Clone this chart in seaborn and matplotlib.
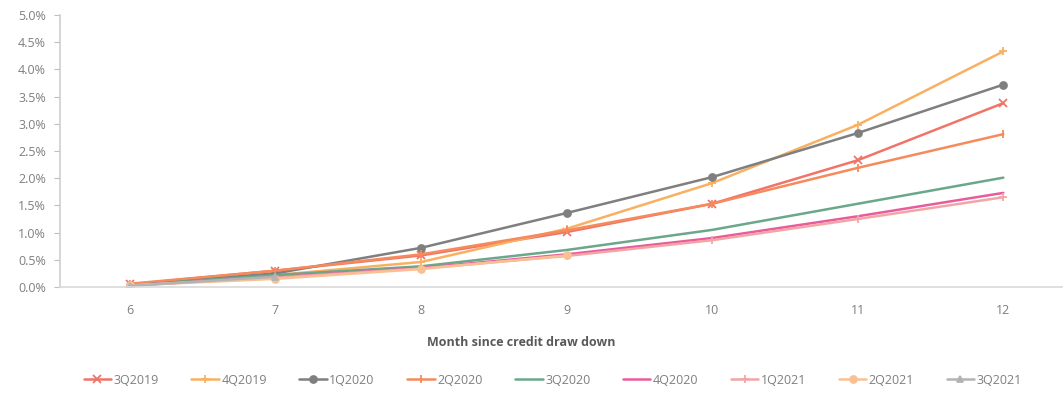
import numpy as np
import pandas as pd
import matplotlib
matplotlib.use("Agg")
import matplotlib.pyplot as plt
import seaborn as sns
from matplotlib.ticker import PercentFormatter, MultipleLocator

months = [6, 7, 8, 9, 10, 11, 12]
s_3Q2019 = [0.05, 0.30, 0.58, 1.01, 1.53, 2.33, 3.38]
s_4Q2019 = [0.04, 0.22, 0.46, 1.07, 1.91, 2.98, 4.33]
s_1Q2020 = [0.04, 0.25, 0.72, 1.36, 2.02, 2.83, 3.72]
s_2Q2020 = [0.06, 0.30, 0.60, 1.04, 1.53, 2.19, 2.81]
s_3Q2020 = [0.03, 0.22, 0.38, 0.68, 1.05, 1.53, 2.01]
s_4Q2020 = [0.03, 0.18, 0.35, 0.60, 0.90, 1.30, 1.73]
s_1Q2021 = [0.03, 0.17, 0.34, 0.57, 0.86, 1.25, 1.65]
s_2Q2021 = [0.03, 0.15, 0.33, 0.58]
s_3Q2021 = [0.02, 0.19]

series = {
    "3Q2019": s_3Q2019, "4Q2019": s_4Q2019, "1Q2020": s_1Q2020,
    "2Q2020": s_2Q2020, "3Q2020": s_3Q2020, "4Q2020": s_4Q2020,
    "1Q2021": s_1Q2021, "2Q2021": s_2Q2021, "3Q2021": s_3Q2021,
}
colors = {
    "3Q2019": "#F07468", "4Q2019": "#F9B062", "1Q2020": "#7F7F7F",
    "2Q2020": "#F68A5C", "3Q2020": "#6BA78B", "4Q2020": "#E95C9C",
    "1Q2021": "#F3A5A5", "2Q2021": "#F9C193", "3Q2021": "#B3B3B3",
}
markers = {
    "3Q2019": "x", "4Q2019": "+", "1Q2020": "o", "2Q2020": "|",
    "3Q2020": None, "4Q2020": None, "1Q2021": "+", "2Q2021": "o", "3Q2021": "^",
}

rows = []
for name, vals in series.items():
    for m, v in zip(months, vals):
        rows.append({"Month": m, "Rate": v / 100.0, "Vintage": name})
df = pd.DataFrame(rows)

sns.set_theme(style="white")
plt.rcParams["font.family"] = ["Open Sans", "DejaVu Sans"]

fig = plt.figure(figsize=(10.63, 3.94), dpi=100)
ax = fig.add_axes([60/1063, 1 - 287/394, 1 - 60/1063, (287 - 15)/394])

for name in series:
    sub = df[df["Vintage"] == name]
    mk = markers[name]
    if mk:
        size = 5 if mk in ("o", "^") else 6
        kw = dict(marker=mk, markersize=size, markeredgewidth=1.3,
                  markeredgecolor=colors[name], markerfacecolor=colors[name])
    else:
        kw = {}
    sns.lineplot(data=sub, x="Month", y="Rate", ax=ax, color=colors[name],
                 linewidth=1.8, label=name, **kw)

ax.set_xlim(5.52, 12.41)
ax.set_ylim(0, 0.05)
ax.set_xticks(months)
ax.yaxis.set_major_locator(MultipleLocator(0.005))
ax.yaxis.set_major_formatter(PercentFormatter(1.0, decimals=1))
ax.tick_params(axis="y", which="major", length=4, width=0.8, color="#BFBFBF",
               labelsize=9, labelcolor="#7F7F7F", left=True, pad=6)
ax.tick_params(axis="x", length=0, labelsize=9, labelcolor="#7F7F7F", pad=12)
for side in ("top", "right"):
    ax.spines[side].set_visible(False)
ax.spines["left"].set_color("#D0D0D0")
ax.spines["bottom"].set_color("#D9D9D9")
ax.spines["bottom"].set_linewidth(1.2)
ax.set_ylabel("")
ax.set_xlabel("Month since credit draw down", fontsize=9, fontweight="bold",
              color="#595959")
ax.xaxis.set_label_coords(0.46, -0.18)

handles, labels = ax.get_legend_handles_labels()
ax.get_legend().remove()
fig.legend(handles, labels, loc="center", bbox_to_anchor=(0.52, 0.035), ncol=9,
           frameon=False, fontsize=9, labelcolor="#7F7F7F", handlelength=2.2,
           columnspacing=2.6, handletextpad=0.2)

fig.savefig("out.png", dpi=100)
